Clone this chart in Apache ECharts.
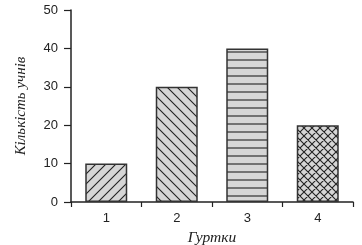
<!DOCTYPE html>
<html>
<head>
<meta charset="utf-8">
<script src="https://cdn.jsdelivr.net/npm/echarts@6/dist/echarts.min.js"></script>
<style>
  html, body { margin: 0; padding: 0; background: #fff; }
  #main { width: 362px; height: 245px; }
</style>
</head>
<body>
<div id="main"></div>
<script>
let categories = ['1', '2', '3', '4'];
let pupils = [10, 30, 40, 20];
let yTicks = [0, 10, 20, 30, 40, 50];
let patternKinds = ['slash', 'backslash', 'horizontal', 'cross'];

// hatch patterns drawn on small canvases, used as bar fill
function makePattern(kind) {
    let size = kind === 'horizontal' ? 8 : (kind === 'cross' ? 8 : 10);
    let c = document.createElement('canvas');
    c.width = size;
    c.height = size;
    let ctx = c.getContext('2d');
    ctx.fillStyle = '#d6d6d6';
    ctx.fillRect(0, 0, size, size);
    ctx.strokeStyle = '#222';
    ctx.lineWidth = 1.1;
    ctx.beginPath();
    if (kind === 'slash' || kind === 'cross') {
        ctx.moveTo(-1, size + 1); ctx.lineTo(size + 1, -1);
        ctx.moveTo(-1, 1); ctx.lineTo(1, -1);
        ctx.moveTo(size - 1, size + 1); ctx.lineTo(size + 1, size - 1);
    }
    if (kind === 'backslash' || kind === 'cross') {
        ctx.moveTo(-1, -1); ctx.lineTo(size + 1, size + 1);
        ctx.moveTo(size - 1, -1); ctx.lineTo(size + 1, 1);
        ctx.moveTo(-1, size - 1); ctx.lineTo(1, size + 1);
    }
    if (kind === 'horizontal') {
        ctx.moveTo(0, size / 2); ctx.lineTo(size, size / 2);
    }
    ctx.stroke();
    return { image: c, repeat: 'repeat' };
}

var myChart = echarts.init(document.getElementById('main'));
var option = {
    animation: false,
    backgroundColor: '#fff',
    grid: {
        left: 71,
        right: 9,
        top: 10,
        bottom: 43,
        outerBoundsMode: 'none'
    },
    xAxis: {
        type: 'category',
        data: categories,
        name: 'Гуртки',
        nameLocation: 'middle',
        nameGap: 21,
        nameTextStyle: {
            fontFamily: 'Liberation Serif',
            fontStyle: 'italic',
            fontSize: 15.5,
            color: '#222'
        },
        axisLine: { lineStyle: { color: '#222', width: 1.5 } },
        axisTick: { show: true, length: 5, lineStyle: { color: '#222', width: 1.2 } },
        axisLabel: {
            margin: 10,
            fontFamily: 'Liberation Sans',
            fontSize: 13,
            color: '#222'
        }
    },
    yAxis: {
        type: 'value',
        min: yTicks[0],
        max: yTicks[yTicks.length - 1],
        interval: 10,
        name: 'Кількість учнів',
        nameLocation: 'middle',
        nameGap: 42,
        nameTextStyle: {
            fontFamily: 'Liberation Serif',
            fontStyle: 'italic',
            fontSize: 15,
            color: '#222'
        },
        splitLine: { show: false },
        axisLine: { show: true, lineStyle: { color: '#222', width: 1.5 } },
        axisTick: { show: true, length: 7, lineStyle: { color: '#222', width: 1.2 } },
        axisLabel: {
            margin: 13,
            fontFamily: 'Liberation Sans',
            fontSize: 13,
            color: '#222'
        }
    },
    series: [
        {
            type: 'bar',
            barWidth: 42,
            data: pupils.map((v, i) => ({
                value: v,
                itemStyle: {
                    color: makePattern(patternKinds[i]),
                    borderColor: '#333',
                    borderWidth: 1.5
                }
            }))
        }
    ]
};
myChart.setOption(option);
</script>
</body>
</html>
